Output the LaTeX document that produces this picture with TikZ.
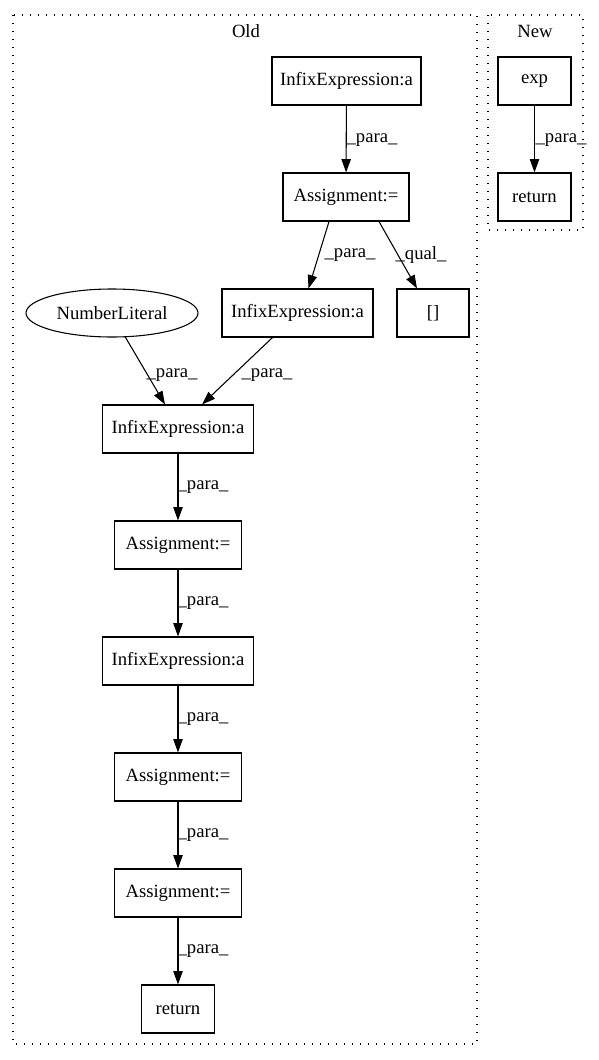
\documentclass[tikz,border=0pt]{standalone}
\usepackage{fontspec}
\setmainfont{Liberation Serif}
\usetikzlibrary{arrows.meta,shapes.geometric,calc}
\begin{document}
\begin{tikzpicture}[x=0.75pt,y=-0.75pt,
  every node/.style={font=\fontsize{14pt}{16pt}\selectfont},
  box/.style={draw,line width=0.8pt,rectangle,minimum height=36pt,inner sep=0pt},
  ell/.style={draw,line width=0.8pt,ellipse,minimum height=36pt,inner sep=0pt},
  conn/.style={-{Triangle[length=10pt,width=7pt]},line width=0.8pt},
  lbl/.style={inner sep=0pt},
  cluster/.style={line width=1pt,dash pattern=on 1pt off 5pt}]
\useasboundingbox (0,0) rectangle (599,1060);
% clusters
\draw[cluster] (13,15) rectangle (477,1044);
\node[lbl] (oldlbl) at (246,31) {Old};
\draw[cluster] (488,15) rectangle (583,230);
\node[lbl] (newlbl) at (535,31) {New};
% nodes Old
\node[box,minimum width=111.75pt] (i1) at (346.5,81) {InfixExpression:a};
\node[box,minimum width=94.5pt] (a1) at (346,197) {Assignment:=};
\node[box,minimum width=113.25pt] (i2) at (297.5,313) {InfixExpression:a};
\node[box,minimum width=54pt] (br) at (433,313) {[]};
\node[ell,minimum width=129pt] (nl) at (112,313) {NumberLiteral};
\node[box,minimum width=113.25pt] (i3) at (178,429) {InfixExpression:a};
\node[box,minimum width=95.25pt] (a2) at (178,545) {Assignment:=};
\node[box,minimum width=113.25pt] (i4) at (178,661) {InfixExpression:a};
\node[box,minimum width=95.25pt] (a3) at (178,777) {Assignment:=};
\node[box,minimum width=95.25pt] (a4) at (178,893) {Assignment:=};
\node[box,minimum width=54.75pt] (r1) at (178,1009) {return};
% nodes New
\node[box,minimum width=54.75pt] (ex) at (534.5,81) {exp};
\node[box,minimum width=54.75pt] (r2) at (534.5,197) {return};
% edges
\draw[conn] (i1) -- (a1);
\draw[conn] ($(a1.south)+(-17,0)$) -- ($(i2.north)+(11,0)$);
\draw[conn] ($(a1.south)+(33,0)$) -- ($(br.north)+(-16,0)$);
\draw[conn] ($(nl.south)+(13,-1)$) -- ($(i3.north)+(-13,0)$);
\draw[conn] ($(i2.south)+(-25,0)$) -- ($(i3.north)+(24,0)$);
\draw[conn] (i3) -- (a2);
\draw[conn] (a2) -- (i4);
\draw[conn] (i4) -- (a3);
\draw[conn] (a3) -- (a4);
\draw[conn] (a4) -- (r1);
\draw[conn] (ex) -- (r2);
% edge labels
\node[lbl] (l1) at (372,140) {\_para\_};
\node[lbl] (l2) at (350,255) {\_para\_};
\node[lbl] (l3) at (421,255) {\_qual\_};
\node[lbl] (l4) at (172,375) {\_para\_};
\node[lbl] (l5) at (267,375) {\_para\_};
\node[lbl] (l6) at (203,487) {\_para\_};
\node[lbl] (l7) at (203,603) {\_para\_};
\node[lbl] (l8) at (203,719) {\_para\_};
\node[lbl] (l9) at (203,835) {\_para\_};
\node[lbl] (l10) at (203,951) {\_para\_};
\node[lbl] (l11) at (561,140) {\_para\_};
\end{tikzpicture}
\end{document}
